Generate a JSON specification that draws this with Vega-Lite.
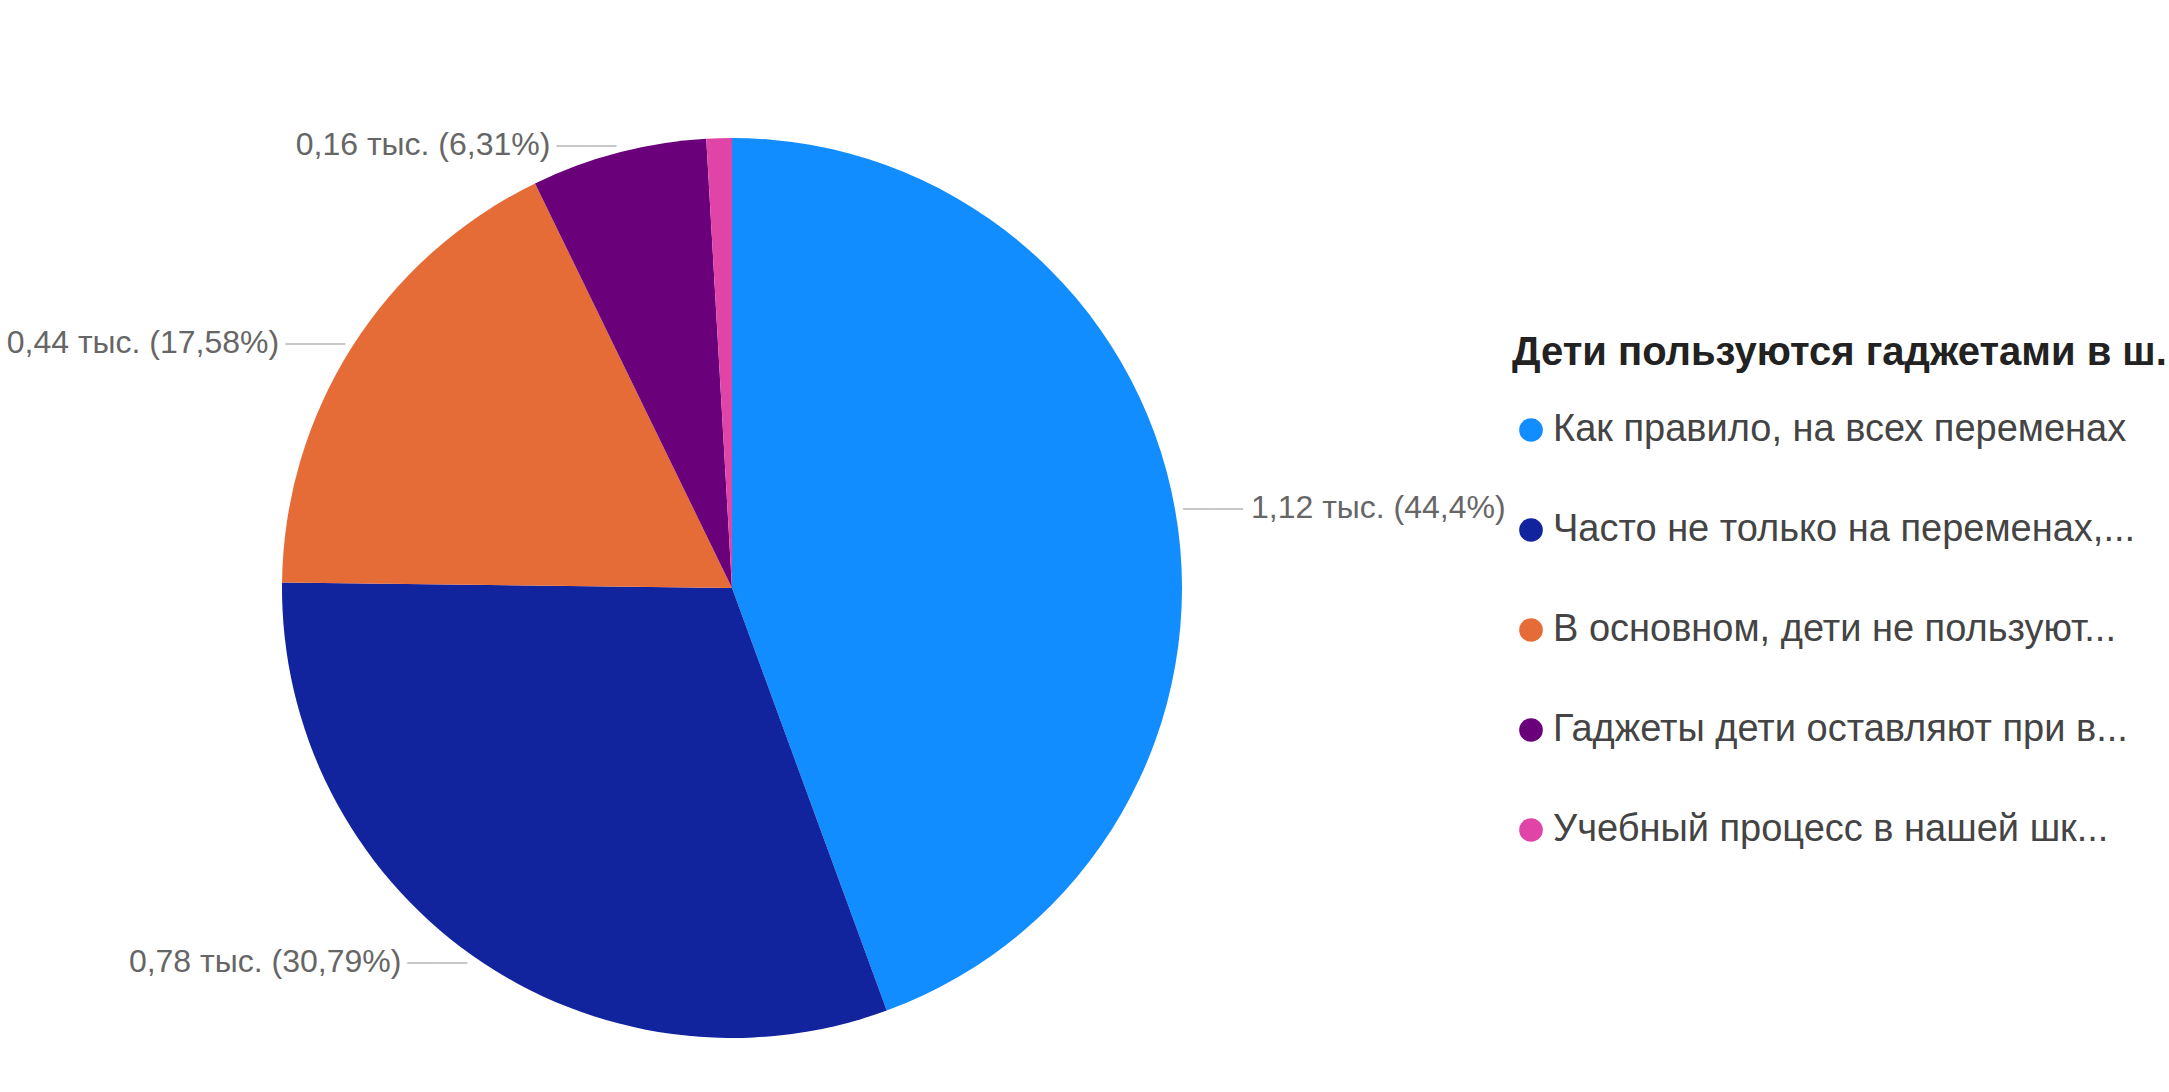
{
  "$schema": "https://vega.github.io/schema/vega-lite/v6.json",
  "width": 1464,
  "height": 1008,
  "autosize": {"type": "none"},
  "padding": {"left": 0, "top": 84, "right": 705, "bottom": 0},
  "background": "white",
  "config": {
    "view": {"stroke": null},
    "font": "Liberation Sans, Arial, sans-serif"
  },
  "data": {
    "values": [
      {"ord": 1, "category": "Как правило, на всех переменах", "count": 1121, "label": "1,12 тыс. (44,4%)"},
      {"ord": 2, "category": "Часто не только на переменах,...", "count": 777, "label": "0,78 тыс. (30,79%)"},
      {"ord": 3, "category": "В основном, дети не пользуют...", "count": 444, "label": "0,44 тыс. (17,58%)"},
      {"ord": 4, "category": "Гаджеты дети оставляют при в...", "count": 159, "label": "0,16 тыс. (6,31%)"},
      {"ord": 5, "category": "Учебный процесс в нашей шк...", "count": 23, "label": ""}
    ]
  },
  "encoding": {
    "theta": {"field": "count", "type": "quantitative", "stack": true},
    "order": {"field": "ord", "type": "quantitative"}
  },
  "layer": [
    {
      "mark": {"type": "arc", "outerRadius": 450},
      "encoding": {
        "color": {
          "field": "category",
          "type": "nominal",
          "sort": ["Как правило, на всех переменах", "Часто не только на переменах,...", "В основном, дети не пользуют...", "Гаджеты дети оставляют при в...", "Учебный процесс в нашей шк..."],
          "scale": {
            "domain": ["Как правило, на всех переменах", "Часто не только на переменах,...", "В основном, дети не пользуют...", "Гаджеты дети оставляют при в...", "Учебный процесс в нашей шк..."],
            "range": ["#118DFF", "#12239E", "#E66C37", "#6B007B", "#E044A7"]
          },
          "legend": {
            "orient": "none",
            "legendX": 1512,
            "legendY": 249,
            "title": "Дети пользуются гаджетами в ш.",
            "titleFontSize": 40,
            "titleFontWeight": "bold",
            "titleColor": "#222222",
            "labelFontSize": 38,
            "labelColor": "#444444",
            "symbolType": "circle",
            "symbolSize": 560,
            "symbolStrokeWidth": 0,
            "rowPadding": 62,
            "titlePadding": 38,
            "labelLimit": 700,
            "titleLimit": 700,
            "padding": 0,
            "labelOffset": 3
          }
        }
      }
    },
    {
      "mark": {"type": "text", "radius": 458, "align": "left", "baseline": "middle", "fontSize": 30, "color": "#c8c8c8"},
      "encoding": {"text": {"condition": {"test": "datum.ord === 1", "value": "——"}, "value": ""}}
    },
    {
      "mark": {"type": "text", "radius": 458, "align": "left", "baseline": "middle", "fontSize": 32, "color": "#666666", "dx": 68},
      "encoding": {"text": {"condition": {"test": "datum.ord !== 1", "value": ""}, "field": "label"}}
    },
    {
      "mark": {"type": "text", "radius": 458, "align": "right", "baseline": "middle", "fontSize": 30, "color": "#c8c8c8"},
      "encoding": {"text": {"condition": {"test": "datum.ord > 1 && datum.ord < 5", "value": "——"}, "value": ""}}
    },
    {
      "mark": {"type": "text", "radius": 458, "align": "right", "baseline": "middle", "fontSize": 32, "color": "#666666", "dx": -66},
      "encoding": {"text": {"condition": {"test": "datum.ord === 1", "value": ""}, "field": "label"}}
    }
  ]
}
